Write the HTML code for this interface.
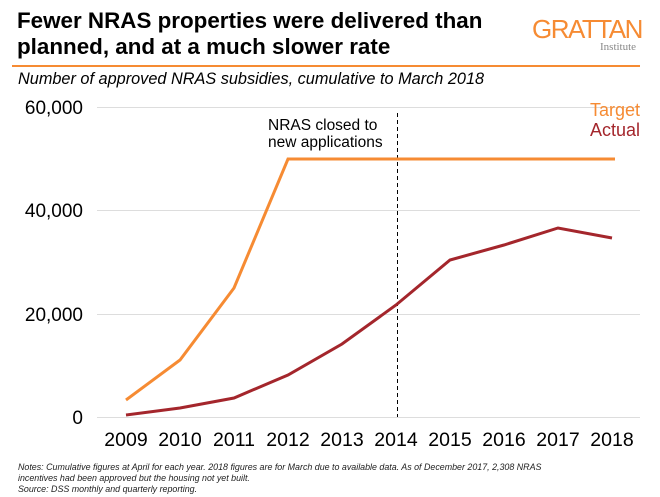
<!DOCTYPE html>
<html><head><style>
body{margin:0;width:660px;height:497px;background:#fff;font-family:"Liberation Sans",sans-serif;overflow:hidden;position:relative}
.t{position:absolute;left:17px;top:8px;font-size:22.4px;font-weight:bold;line-height:26px;color:#000}
.g{position:absolute;left:532px;top:14px;font-size:26px;color:#f68b33;letter-spacing:-1.5px}
.gi{position:absolute;left:600px;top:41px;font-family:"Liberation Serif",serif;font-size:11px;color:#888}
.rule{position:absolute;left:12px;top:65px;width:628px;height:2px;background:#f68b33}
.s{position:absolute;left:18px;top:70px;font-size:16.3px;font-style:italic;color:#000}
.n{position:absolute;left:18px;top:462px;font-size:8.9px;font-style:italic;color:#222;line-height:11px}
</style></head><body>
<div class="t">Fewer NRAS properties were delivered than<br>planned, and at a much slower rate</div>
<div class="g">GRATTAN</div><div class="gi">Institute</div>
<div class="rule"></div>
<div class="s">Number of approved NRAS subsidies, cumulative to March 2018</div>
<svg width="660" height="497" style="position:absolute;left:0;top:0">
<g stroke="#ddd" stroke-width="1">
<line x1="97" x2="640" y1="107.5" y2="107.5"/><line x1="97" x2="640" y1="210.5" y2="210.5"/><line x1="97" x2="640" y1="314.5" y2="314.5"/><line x1="97" x2="640" y1="417.5" y2="417.5"/>
</g>
<g font-size="19" fill="#000" text-anchor="end">
<text x="83" y="114">60,000</text><text x="83" y="217">40,000</text><text x="83" y="321">20,000</text><text x="83" y="424">0</text>
</g>
<g font-size="19.5" fill="#000" text-anchor="middle">
<text x="126" y="446">2009</text><text x="180" y="446">2010</text><text x="234" y="446">2011</text><text x="288" y="446">2012</text><text x="342" y="446">2013</text><text x="396" y="446">2014</text><text x="450" y="446">2015</text><text x="504" y="446">2016</text><text x="558" y="446">2017</text><text x="612" y="446">2018</text>
</g>
<line x1="397.5" x2="397.5" y1="113" y2="417" stroke="#000" stroke-dasharray="4,3" stroke-width="1"/>
<text x="268" y="130" font-size="15.5">NRAS closed to</text>
<text x="268" y="147" font-size="15.5">new applications</text>
<text x="640" y="116" font-size="18" fill="#f68b33" text-anchor="end">Target</text>
<text x="640" y="136" font-size="18" fill="#a4262c" text-anchor="end">Actual</text>
<polyline fill="none" stroke="#f68b33" stroke-width="3" points="126,400 180,360 234,288 288,159 342,159 396,159 450,159 504,159 558,159 615,159"/>
<polyline fill="none" stroke="#a4262c" stroke-width="3" points="126,415 180,408 234,398 288,375 342,344 396,305 450,260 504,245 558,228 612,238"/>
</svg>
<div class="n">Notes: Cumulative figures at April for each year. 2018 figures are for March due to available data. As of December 2017, 2,308 NRAS<br>incentives had been approved but the housing not yet built.<br>Source: DSS monthly and quarterly reporting.</div>
</body></html>
